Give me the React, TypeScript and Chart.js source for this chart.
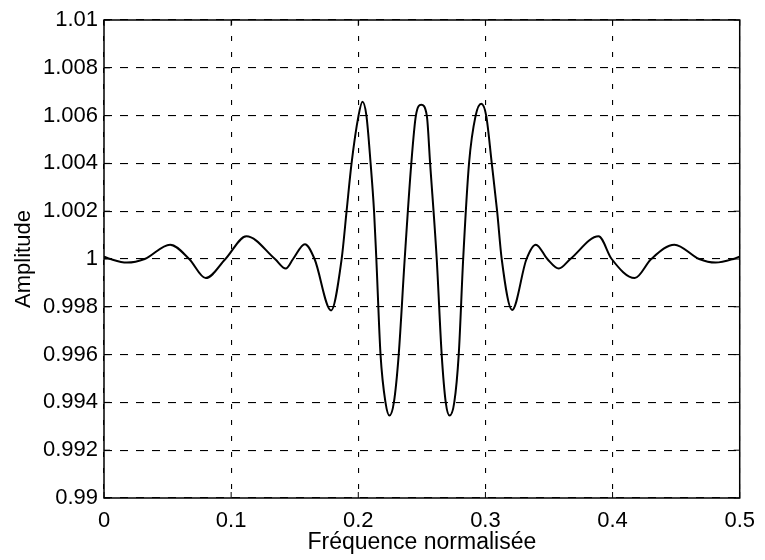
import React, { useEffect, useRef } from "react";
import { Chart, registerables } from "chart.js";

Chart.register(...registerables);

// Normalised frequency (x) and amplitude (y)
const freqs = [
  0.0, 0.005, 0.018, 0.032, 0.052, 0.067, 0.08, 0.0955, 0.112, 0.1345, 0.143, 0.1487, 0.158, 0.1656,
  0.1786, 0.1869, 0.1908, 0.1947, 0.2002, 0.2033, 0.2064, 0.2097, 0.2124, 0.2142, 0.2175, 0.2214,
  0.2245, 0.228, 0.2318, 0.2365, 0.2417, 0.2453, 0.2495, 0.2539, 0.2565, 0.2617, 0.2656, 0.2688,
  0.2718, 0.2755, 0.279, 0.2825, 0.2871, 0.2923, 0.2967, 0.3006, 0.305, 0.3092, 0.3128, 0.321,
  0.3323, 0.3396, 0.3487, 0.3577, 0.3668, 0.389, 0.3993, 0.4174, 0.4304, 0.4486, 0.4681, 0.481,
  0.495, 0.5,
];
const amps = [
  1.0001, 1.0, 0.99985, 1.0, 1.0006, 1.0, 0.9992, 1.0, 1.00095, 1.0, 0.9996, 1.0, 1.00062, 1.0,
  0.99785, 1.0, 1.002, 1.004, 1.006, 1.00658, 1.006, 1.004, 1.002, 1.0, 0.996, 0.994,
  0.99345, 0.994, 0.996, 1.0, 1.004, 1.006, 1.00645, 1.006, 1.004, 1.0, 0.996, 0.994,
  0.99345, 0.994, 0.996, 1.0, 1.004, 1.006, 1.0065, 1.006, 1.004, 1.002, 1.0, 0.99787,
  1.0, 1.0006, 1.0, 0.9996, 1.0, 1.00095, 1.0, 0.9992, 1.0, 1.0006, 1.0, 0.99985,
  1.0, 1.0001,
];

const xTickValues = [0, 0.1, 0.2, 0.3, 0.4, 0.5];
const xTickLabels = ["0", "0.1", "0.2", "0.3", "0.4", "0.5"];
const yTickValues = [0.99, 0.992, 0.994, 0.996, 0.998, 1.0, 1.002, 1.004, 1.006, 1.008, 1.01];
const yTickLabels = ["0.99", "0.992", "0.994", "0.996", "0.998", "1", "1.002", "1.004", "1.006", "1.008", "1.01"];

const xTitle = "Fréquence normalisée";
const yTitle = "Amplitude";

const FONT = "'Liberation Sans', Arial, Helvetica, sans-serif";

const boxPlugin = {
  id: "boxAndTicks",
  afterDraw(chart: any) {
    const { ctx, chartArea } = chart;
    const { left, right, top, bottom } = chartArea;
    const xs = chart.scales.x;
    const ys = chart.scales.y;
    const tl = 6;
    ctx.save();
    ctx.strokeStyle = "#000";
    ctx.lineWidth = 1.5;
    ctx.setLineDash([]);
    ctx.strokeRect(left, top, right - left, bottom - top);
    ctx.lineWidth = 1;
    ctx.beginPath();
    xs.ticks.forEach((t: any) => {
      const px = xs.getPixelForValue(t.value);
      ctx.moveTo(px, bottom);
      ctx.lineTo(px, bottom - tl);
      ctx.moveTo(px, top);
      ctx.lineTo(px, top + tl);
    });
    ys.ticks.forEach((t: any) => {
      const py = ys.getPixelForValue(t.value);
      ctx.moveTo(left, py);
      ctx.lineTo(left + tl, py);
      ctx.moveTo(right, py);
      ctx.lineTo(right - tl, py);
    });
    ctx.stroke();
    ctx.restore();
  },
};

export default function App() {
  const ref = useRef<HTMLCanvasElement | null>(null);

  useEffect(() => {
    if (!ref.current) return;
    const data = freqs.map((f, i) => ({ x: f, y: amps[i] }));
    const chart = new Chart(ref.current, {
      type: "line",
      data: {
        datasets: [
          {
            data,
            borderColor: "#000",
            borderWidth: 2,
            pointRadius: 0,
            fill: false,
            cubicInterpolationMode: "monotone",
          },
        ],
      },
      options: {
        responsive: false,
        animation: false,
        events: [],
        layout: { padding: { top: 20, right: 19, left: 0, bottom: 0 } },
        plugins: { legend: { display: false }, tooltip: { enabled: false } },
        scales: {
          x: {
            type: "linear",
            min: 0,
            max: 0.5,
            afterBuildTicks: (s: any) => {
              s.ticks = xTickValues.map((v) => ({ value: v }));
            },
            afterFit: (s: any) => {
              s.height = 62;
            },
            ticks: {
              color: "#000",
              font: { family: FONT, size: 22 },
              padding: 10,
              maxRotation: 0,
              autoSkip: false,
              callback: (_v: any, i: number) => xTickLabels[i],
            },
            grid: { color: "#000", lineWidth: 1.1, drawTicks: false },
            border: { display: false, dash: [5, 11] },
            title: {
              display: true,
              text: xTitle,
              color: "#000",
              font: { family: FONT, size: 23 },
              padding: { top: 0, bottom: 4 },
            },
          },
          y: {
            type: "linear",
            min: 0.99,
            max: 1.01,
            afterBuildTicks: (s: any) => {
              s.ticks = yTickValues.map((v) => ({ value: v }));
            },
            afterFit: (s: any) => {
              s.width = 104;
            },
            ticks: {
              color: "#000",
              font: { family: FONT, size: 22 },
              padding: 6,
              autoSkip: false,
              callback: (_v: any, i: number) => yTickLabels[i],
            },
            grid: { color: "#000", lineWidth: 1.1, drawTicks: false },
            border: { display: false, dash: [8, 8] },
            title: {
              display: true,
              text: yTitle,
              color: "#000",
              font: { family: FONT, size: 22 },
              padding: { top: 11, bottom: 0 },
            },
          },
        },
      },
      plugins: [boxPlugin],
    } as any);
    return () => chart.destroy();
  }, []);

  return (
    <div style={{ position: "absolute", left: 0, top: 0, width: 765, height: 560, background: "#fff" }}>
      <canvas ref={ref} width={765} height={560} style={{ display: "block" }} />
    </div>
  );
}
